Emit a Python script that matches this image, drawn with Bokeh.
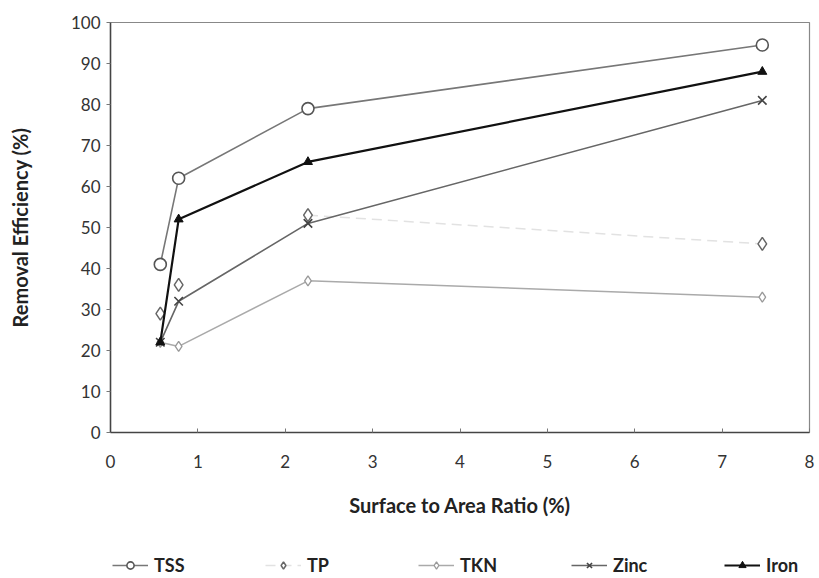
from bokeh.plotting import figure
from bokeh.models import Range1d, Legend, LegendItem, FixedTicker
from bokeh.layouts import column
from bokeh.embed import file_html
from bokeh.resources import INLINE

# Data
ratio = [0.57, 0.78, 2.26, 7.46]
tss = [41, 62, 79, 94.5]
tp = [29, 36, 53, 46]
tkn = [22, 21, 37, 33]
zinc = [22, 32, 51, 81]
iron = [22, 52, 66, 88]
x_ticks = [0, 1, 2, 3, 4, 5, 6, 7, 8]
y_ticks = [0, 10, 20, 30, 40, 50, 60, 70, 80, 90, 100]
names = ["TSS", "TP", "TKN", "Zinc", "Iron"]

FONT = "Lato"

styles = {
    "TSS": dict(line=dict(line_color="#777777", line_width=1.6),
                mark=dict(marker="circle", size=12, fill_color="white", line_color="#555555", line_width=1.6)),
    "TP": dict(line=dict(line_color="#e2e2e2", line_width=1.5, line_dash="10 6"),
               mark=dict(marker="diamond", size=13, fill_color="white", line_color="#666666", line_width=1.5)),
    "TKN": dict(line=dict(line_color="#aaaaaa", line_width=1.5),
                mark=dict(marker="diamond", size=10, fill_color="white", line_color="#999999", line_width=1.3)),
    "Zinc": dict(line=dict(line_color="#666666", line_width=1.6),
                 mark=dict(marker="x", size=12, line_color="#444444", line_width=1.6)),
    "Iron": dict(line=dict(line_color="#111111", line_width=2.2),
                 mark=dict(marker="triangle", size=9, fill_color="#111111", line_color="#111111")),
}

p = figure(width=819, height=545, output_backend="svg", toolbar_location=None,
           x_range=Range1d(0, 8), y_range=Range1d(0, 100),
           min_border_left=110, min_border_right=10, min_border_top=22, min_border_bottom=113)
p.xgrid.visible = False
p.ygrid.visible = False
p.outline_line_color = "#888888"
p.outline_line_width = 1.2
p.background_fill_color = "white"
p.border_fill_color = "white"

p.xaxis.ticker = FixedTicker(ticks=x_ticks)
p.yaxis.ticker = FixedTicker(ticks=y_ticks)
p.xaxis.minor_tick_line_color = None
p.yaxis.minor_tick_line_color = None
for ax in (p.xaxis[0], p.yaxis[0]):
    ax.axis_line_color = "#444444"
    ax.axis_line_width = 1.5
    ax.major_tick_line_color = "#777777"
    ax.major_label_text_font = FONT
    ax.major_label_text_font_size = "17px"
    ax.major_label_text_color = "#333333"
    ax.axis_label_text_font = FONT
    ax.axis_label_text_font_style = "bold"
    ax.axis_label_text_font_size = "20px"
    ax.axis_label_text_color = "#222222"
p.xaxis.major_tick_in = 4
p.xaxis.major_tick_out = 0
p.xaxis.major_label_standoff = 22
p.xaxis.axis_label = "Surface to Area Ratio (%)"
p.xaxis.axis_label_standoff = 22
p.yaxis.major_tick_in = 0
p.yaxis.major_tick_out = 4
p.yaxis.major_label_standoff = 6
p.yaxis.axis_label = "Removal Efficiency (%)"
p.yaxis.axis_label_standoff = 36

p.line(ratio[2:], tp[2:], **styles["TP"]["line"])
p.scatter(ratio, tp, **styles["TP"]["mark"])
p.line(ratio, tkn, **styles["TKN"]["line"])
p.scatter(ratio, tkn, **styles["TKN"]["mark"])
p.line(ratio, zinc, **styles["Zinc"]["line"])
p.scatter(ratio, zinc, **styles["Zinc"]["mark"])
p.line(ratio, tss, **styles["TSS"]["line"])
p.scatter(ratio, tss, **styles["TSS"]["mark"])
p.line(ratio, iron, **styles["Iron"]["line"])
p.scatter(ratio, iron, **styles["Iron"]["mark"])

# legend strip below the chart (its key renderers hold the series data, drawn off-range)
lg = figure(width=819, height=33, output_backend="svg", toolbar_location=None,
            x_axis_type=None, y_axis_type=None,
            x_range=Range1d(100, 101), y_range=Range1d(100, 101),
            min_border_left=0, min_border_right=0, min_border_top=0, min_border_bottom=0)
lg.xgrid.visible = False
lg.ygrid.visible = False
lg.outline_line_color = None
series = {"TSS": tss, "TP": tp, "TKN": tkn, "Zinc": zinc, "Iron": iron}
items = []
for n in names:
    r1 = lg.line(ratio, series[n], **styles[n]["line"])
    r2 = lg.scatter(ratio, series[n], **styles[n]["mark"])
    items.append(LegendItem(label=n, renderers=[r1, r2]))
legend = Legend(items=items, orientation="horizontal", location=(2, 2),
                glyph_width=36, glyph_height=18, label_standoff=6, label_width=40, spacing=71,
                padding=2, margin=0, border_line_color=None, background_fill_alpha=0,
                label_text_font=FONT, label_text_font_style="bold", label_text_font_size="18px",
                label_text_color="#222222")
lg.add_layout(legend, "center")

open("out.html", "w").write(file_html(column(p, lg, spacing=0), INLINE))
